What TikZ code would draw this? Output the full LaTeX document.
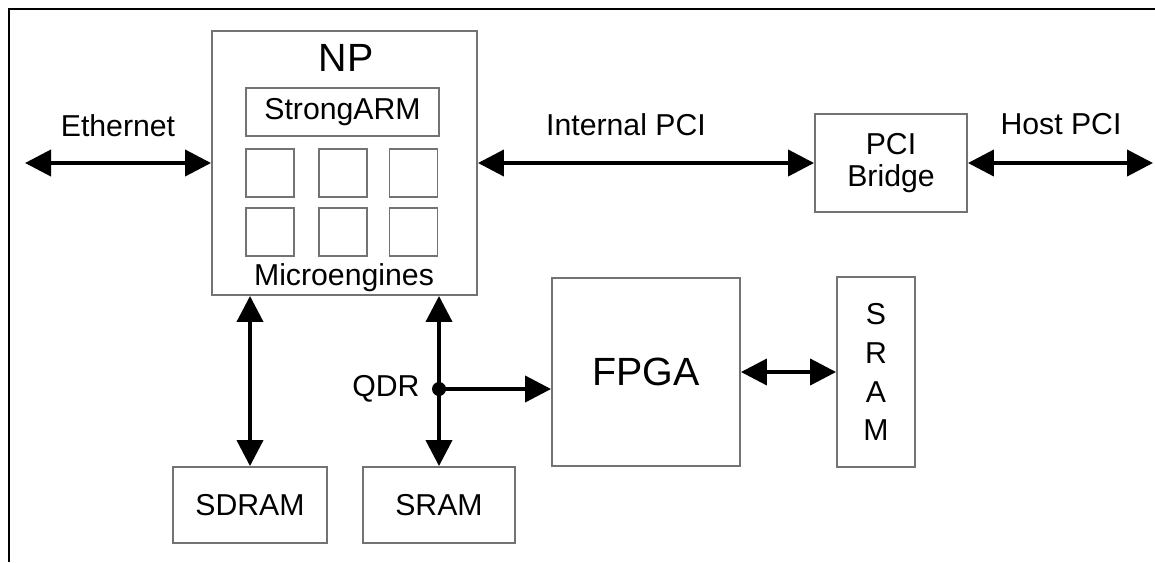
\documentclass[tikz,border=0pt]{standalone}
\usepackage{fontspec}
\setmainfont{Liberation Sans}
\usetikzlibrary{positioning}
\usetikzlibrary{arrows.meta}

\begin{document}
\begin{tikzpicture}[x=0.025cm, y=-0.025cm,
	blk/.style = {draw=black!55, line width=1.3pt, fill=white, inner sep=0pt},
	lbl/.style = {inner sep=0pt, font=\fontsize{21.5}{26}\selectfont},
	big/.style = {inner sep=0pt, font=\fontsize{28}{34}\selectfont},
	link/.style = {line width=2.8pt, {Triangle[length=0.65cm, width=0.65cm]}-{Triangle[length=0.65cm, width=0.65cm]}},
	tolink/.style = {line width=2.8pt, -{Triangle[length=0.65cm, width=0.65cm]}}]
	\useasboundingbox (0,0) rectangle (1155,562);
	\draw[line width=2pt] (9,562) -- (9,9) -- (1155,9);

	% network processor
	\node[blk, minimum width=6.625cm, minimum height=6.6cm] (np) at (344.5,163) {};
	\node[big, anchor=base] (nptitle) at (346,71) {NP};
	\node[blk, lbl, minimum width=4.825cm, minimum height=1.2cm] (arm) at (342.5,112) {StrongARM};
	\node[blk, minimum size=1.2cm] (me1) at (270,173) {};
	\node[blk, minimum size=1.2cm, right = .575cm of me1] (me2) {};
	\node[blk, minimum size=1.2cm, right = .52cm of me2] (me3) {};
	\node[blk, minimum size=1.2cm, below = .225cm of me1] (me4) {};
	\node[blk, minimum size=1.2cm, below = .225cm of me2] (me5) {};
	\node[blk, minimum size=1.2cm, below = .225cm of me3] (me6) {};
	\node[lbl, anchor=base] (metitle) at (344,285) {Microengines};

	% other blocks
	\node[blk, lbl, minimum width=3.8cm, minimum height=2.45cm, align=center, font=\fontsize{21.5}{23}\selectfont] (pci) at (891,163) {PCI\\Bridge};
	\node[blk, big, minimum size=4.7cm] (fpga) at (646,372) {FPGA};
	\node[blk, lbl, minimum width=1.95cm, minimum height=4.75cm, align=center, font=\fontsize{21.5}{27.7}\selectfont] (sramv) at (876,372) {S\\R\\A\\M};
	\node[blk, lbl, minimum width=3.85cm, minimum height=1.9cm] (sdram) at (250,505) {SDRAM};
	\node[blk, lbl, minimum width=3.8cm, minimum height=1.9cm] (sram) at (439,505) {SRAM};

	% labels
	\node[lbl, anchor=base] (ethlbl) at (118,136) {Ethernet};
	\node[lbl, anchor=base] (intlbl) at (626,135) {Internal PCI};
	\node[lbl, anchor=base] (hostlbl) at (1061,134) {Host PCI};

	\coordinate (ethend) at (25,163);
	\coordinate (hostend) at (1153,163);

	\draw[link] (ethend) -- (np.west);
	\draw[link] (np.east) -- (pci.west);
	\draw[link] (pci.east) -- (hostend);
	\draw[link] (sdram.north) -- (sdram.north |- np.south);
	\draw[link] (sram.north) -- (sram.north |- np.south);
	\draw[link] (fpga.east) -- (sramv.west);

	\node[circle, fill, inner sep=0pt, minimum size=.35cm] (qdr) at (439,389) {};
	\node[lbl, left = .3cm of qdr] (qdrlbl) {QDR};
	\draw[tolink] (qdr.center) -- (fpga.west |- qdr);
\end{tikzpicture}
\end{document}
